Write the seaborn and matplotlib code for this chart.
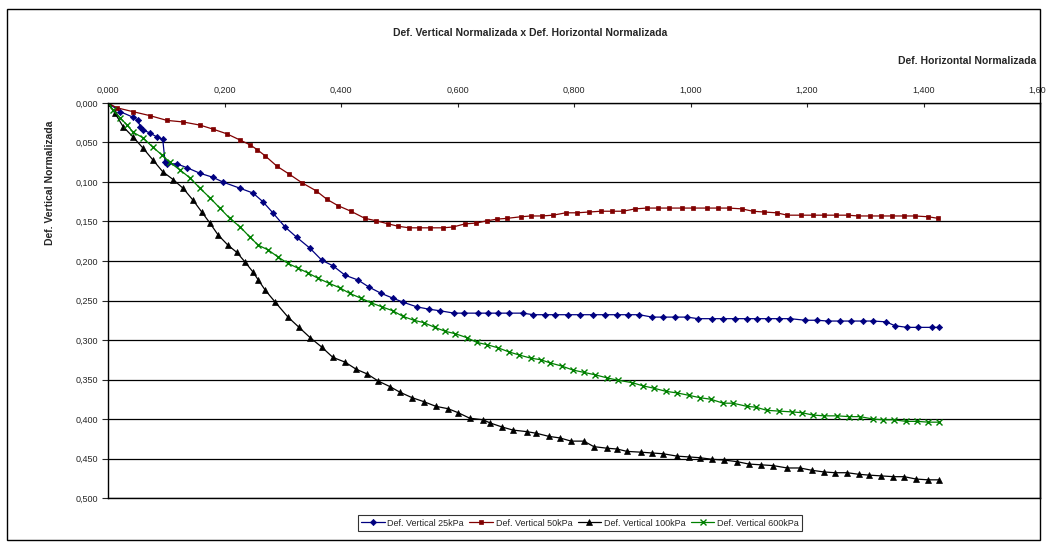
import matplotlib
matplotlib.use('Agg')
import matplotlib.pyplot as plt
import seaborn as sns
from matplotlib.ticker import FuncFormatter, MultipleLocator
from matplotlib.patches import Rectangle

# dados (def. horizontal x def. vertical, normalizadas)
x_25 = [0.000, 0.021, 0.043, 0.052, 0.055, 0.060, 0.072, 0.084, 0.094, 0.098, 0.101, 0.118, 0.136,
        0.158, 0.180, 0.197, 0.227, 0.249, 0.266, 0.283, 0.304, 0.324, 0.347, 0.367, 0.386, 0.407,
        0.429, 0.448, 0.469, 0.489, 0.506, 0.530, 0.551, 0.570, 0.594, 0.611, 0.635, 0.652, 0.670,
        0.688, 0.712, 0.730, 0.750, 0.767, 0.790, 0.810, 0.833, 0.853, 0.874, 0.893, 0.912, 0.934,
        0.953, 0.973, 0.994, 1.013, 1.037, 1.056, 1.076, 1.097, 1.114, 1.133, 1.152, 1.171, 1.197,
        1.217, 1.236, 1.257, 1.276, 1.296, 1.313, 1.336, 1.351, 1.372, 1.391, 1.415, 1.427]
y_25 = [0.000, 0.011, 0.018, 0.022, 0.030, 0.034, 0.038, 0.043, 0.046, 0.075, 0.077, 0.077, 0.082,
        0.089, 0.094, 0.100, 0.108, 0.114, 0.125, 0.139, 0.157, 0.170, 0.184, 0.199, 0.206, 0.218,
        0.224, 0.233, 0.241, 0.247, 0.252, 0.258, 0.261, 0.263, 0.266, 0.266, 0.266, 0.266, 0.266,
        0.266, 0.266, 0.268, 0.268, 0.268, 0.268, 0.268, 0.268, 0.268, 0.268, 0.268, 0.268, 0.271,
        0.271, 0.271, 0.271, 0.273, 0.273, 0.273, 0.273, 0.273, 0.273, 0.273, 0.273, 0.273, 0.275,
        0.275, 0.276, 0.276, 0.276, 0.276, 0.276, 0.277, 0.282, 0.284, 0.284, 0.284, 0.284]

x_50 = [0.000, 0.015, 0.043, 0.072, 0.101, 0.129, 0.158, 0.180, 0.204, 0.227, 0.244, 0.256, 0.270,
        0.290, 0.311, 0.333, 0.357, 0.376, 0.395, 0.417, 0.441, 0.460, 0.481, 0.498, 0.517, 0.534,
        0.553, 0.575, 0.592, 0.613, 0.632, 0.651, 0.668, 0.685, 0.709, 0.726, 0.745, 0.764, 0.786,
        0.805, 0.826, 0.846, 0.865, 0.884, 0.905, 0.925, 0.944, 0.963, 0.985, 1.004, 1.028, 1.047,
        1.066, 1.088, 1.107, 1.126, 1.148, 1.166, 1.190, 1.210, 1.229, 1.250, 1.270, 1.288, 1.308,
        1.327, 1.346, 1.367, 1.385, 1.408, 1.425]
y_50 = [0.000, 0.006, 0.011, 0.016, 0.022, 0.024, 0.028, 0.033, 0.039, 0.047, 0.053, 0.059, 0.067,
        0.080, 0.090, 0.101, 0.111, 0.122, 0.130, 0.137, 0.146, 0.149, 0.153, 0.156, 0.158, 0.158,
        0.158, 0.158, 0.157, 0.153, 0.152, 0.149, 0.147, 0.146, 0.144, 0.143, 0.143, 0.142, 0.139,
        0.139, 0.138, 0.137, 0.137, 0.137, 0.134, 0.133, 0.133, 0.133, 0.133, 0.133, 0.133, 0.133,
        0.133, 0.134, 0.137, 0.138, 0.139, 0.142, 0.142, 0.142, 0.142, 0.142, 0.142, 0.143, 0.143,
        0.143, 0.143, 0.143, 0.143, 0.144, 0.146]

x_100 = [0.000, 0.012, 0.026, 0.043, 0.060, 0.077, 0.094, 0.112, 0.129, 0.146, 0.161, 0.175, 0.189,
         0.206, 0.221, 0.235, 0.249, 0.258, 0.270, 0.287, 0.309, 0.328, 0.347, 0.367, 0.386, 0.407,
         0.426, 0.445, 0.464, 0.484, 0.501, 0.522, 0.542, 0.563, 0.584, 0.601, 0.621, 0.644, 0.656,
         0.676, 0.695, 0.719, 0.735, 0.757, 0.776, 0.795, 0.817, 0.834, 0.857, 0.874, 0.891, 0.915,
         0.934, 0.953, 0.977, 0.997, 1.016, 1.037, 1.058, 1.080, 1.100, 1.121, 1.142, 1.166, 1.188,
         1.209, 1.229, 1.248, 1.269, 1.289, 1.306, 1.327, 1.348, 1.367, 1.387, 1.408, 1.427]
y_100 = [0.000, 0.013, 0.030, 0.043, 0.057, 0.072, 0.087, 0.097, 0.108, 0.123, 0.138, 0.152, 0.167,
         0.180, 0.189, 0.201, 0.214, 0.224, 0.237, 0.252, 0.271, 0.284, 0.297, 0.309, 0.322, 0.328,
         0.337, 0.343, 0.352, 0.359, 0.366, 0.373, 0.378, 0.384, 0.387, 0.392, 0.399, 0.401, 0.405,
         0.410, 0.414, 0.416, 0.418, 0.422, 0.424, 0.428, 0.428, 0.435, 0.437, 0.438, 0.441, 0.442,
         0.443, 0.444, 0.447, 0.448, 0.449, 0.451, 0.452, 0.454, 0.457, 0.458, 0.459, 0.462, 0.462,
         0.465, 0.467, 0.468, 0.468, 0.470, 0.471, 0.472, 0.473, 0.473, 0.476, 0.477, 0.477]

x_600 = [0.000, 0.009, 0.021, 0.033, 0.043, 0.060, 0.077, 0.093, 0.106, 0.124, 0.141, 0.158, 0.175,
         0.192, 0.209, 0.227, 0.244, 0.258, 0.275, 0.292, 0.309, 0.326, 0.343, 0.361, 0.379, 0.398,
         0.415, 0.434, 0.452, 0.470, 0.489, 0.506, 0.525, 0.542, 0.561, 0.579, 0.596, 0.616, 0.633,
         0.651, 0.670, 0.688, 0.706, 0.726, 0.743, 0.759, 0.779, 0.798, 0.817, 0.836, 0.857, 0.876,
         0.900, 0.918, 0.937, 0.958, 0.977, 0.997, 1.016, 1.035, 1.056, 1.073, 1.097, 1.112, 1.131,
         1.152, 1.174, 1.191, 1.210, 1.229, 1.252, 1.272, 1.291, 1.313, 1.330, 1.349, 1.370, 1.389,
         1.408, 1.427]
y_600 = [0.000, 0.009, 0.019, 0.028, 0.037, 0.044, 0.056, 0.066, 0.075, 0.085, 0.095, 0.108, 0.120,
         0.133, 0.146, 0.157, 0.170, 0.180, 0.186, 0.195, 0.203, 0.209, 0.215, 0.222, 0.228, 0.234,
         0.241, 0.247, 0.253, 0.258, 0.263, 0.270, 0.275, 0.278, 0.284, 0.289, 0.292, 0.297, 0.303,
         0.306, 0.310, 0.315, 0.319, 0.323, 0.325, 0.329, 0.333, 0.338, 0.341, 0.344, 0.348, 0.351,
         0.354, 0.358, 0.361, 0.365, 0.367, 0.370, 0.373, 0.375, 0.380, 0.380, 0.384, 0.385, 0.389,
         0.390, 0.391, 0.392, 0.395, 0.396, 0.396, 0.397, 0.397, 0.400, 0.401, 0.401, 0.403, 0.403,
         0.404, 0.404]

series = [
    ('Def. Vertical 25kPa', x_25, y_25, '#000080', 'D', 3.2),
    ('Def. Vertical 50kPa', x_50, y_50, '#800000', 's', 3.4),
    ('Def. Vertical 100kPa', x_100, y_100, '#000000', '^', 4.0),
    ('Def. Vertical 600kPa', x_600, y_600, '#008000', 'x', 4.0),
]

sns.set_style('white')
plt.rcParams['font.family'] = ['Liberation Sans', 'DejaVu Sans']

fig = plt.figure(figsize=(10.46, 5.48), dpi=100)
ax = fig.add_axes([108 / 1046, 50 / 548, 932 / 1046, 395 / 548])

for nome, xs, ys, cor, mk, ms in series:
    sns.lineplot(x=xs, y=ys, ax=ax, sort=False, estimator=None, color=cor, marker=mk,
                 markersize=ms, markeredgecolor=cor, markeredgewidth=1.0 if mk == 'x' else 0.5,
                 linewidth=0.9, label=nome)

ax.set_xlim(0, 1.6)
ax.set_ylim(0.5, 0)
ax.xaxis.set_major_locator(MultipleLocator(0.2))
ax.yaxis.set_major_locator(MultipleLocator(0.05))
fmt = FuncFormatter(lambda v, pos: f'{v:.3f}'.replace('.', ','))
ax.xaxis.set_major_formatter(fmt)
ax.yaxis.set_major_formatter(fmt)
ax.xaxis.tick_top()
ax.tick_params(axis='x', direction='in', length=3, labelsize=6.5, pad=6, top=True, bottom=False)
ax.tick_params(axis='y', direction='out', length=4, labelsize=6.5, pad=3, left=True)
ax.grid(axis='y', color='black', linewidth=0.9)
ax.grid(axis='x', visible=False)
for sp in ax.spines.values():
    sp.set_color('black')
    sp.set_linewidth(1.0)
ax.set_xlabel('')
ax.set_ylabel('')

fig.text(530 / 1046, 1 - 33 / 548, 'Def. Vertical Normalizada x Def. Horizontal Normalizada',
         ha='center', va='center', fontsize=7.5, fontweight='bold')
fig.text(1036 / 1046, 1 - 61 / 548, 'Def. Horizontal Normalizada',
         ha='right', va='center', fontsize=7.5, fontweight='bold')
fig.text(50 / 1046, 1 - 183 / 548, 'Def. Vertical Normalizada', rotation=90,
         ha='center', va='center', fontsize=7.5, fontweight='bold')

leg = ax.legend(loc='center', bbox_to_anchor=(580 / 1046, 1 - 523 / 548),
                bbox_transform=fig.transFigure, ncol=4, fontsize=6.5, frameon=True,
                fancybox=False, edgecolor='black', handlelength=2.6, handletextpad=0.3,
                columnspacing=0.6, borderpad=0.35, borderaxespad=0)
leg.get_frame().set_linewidth(0.8)

fig.patches.append(Rectangle((7 / 1046, 8 / 548), 1033 / 1046, 531 / 548,
                             transform=fig.transFigure, fill=False, edgecolor='black',
                             linewidth=1.0))

fig.savefig('out.png', dpi=100, facecolor='white')
